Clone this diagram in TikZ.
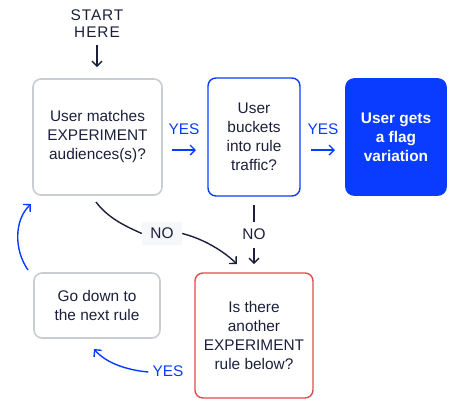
\documentclass[tikz,border=0pt]{standalone}
\usepackage{fontspec}
\setmainfont{Liberation Sans}
\newfontfamily\spaced[LetterSpace=6]{Liberation Sans}
\usetikzlibrary{arrows.meta}
\definecolor{ink}{HTML}{1B1F3B}
\definecolor{vivid}{HTML}{0A3CFF}
\definecolor{frame}{HTML}{C9CCD1}
\definecolor{alert}{HTML}{E5484D}
\definecolor{chip}{HTML}{F6F7F8}
\begin{document}
\begin{tikzpicture}[x=1pt,y=-1pt,
  txt/.style={font=\fontsize{15.4}{19}\selectfont, text=ink, align=center},
  card/.style={txt, draw, line width=1.6pt, rounded corners=8pt, inner sep=0pt},
  grey/.style={card, draw=frame},
  bluebox/.style={card, draw=vivid, line width=1.4pt},
  redbox/.style={card, draw=alert, line width=1.4pt},
  solid/.style={card, draw=vivid, fill=vivid, text=white, font=\fontsize{15.4}{19}\selectfont\bfseries},
  yes/.style={font=\fontsize{15.4}{19}\selectfont, text=vivid, inner sep=0pt},
  no/.style={font=\fontsize{15.4}{19}\selectfont, text=ink, inner sep=2pt},
  tip/.style={-{Straight Barb[length=5pt,width=10pt,line width=1.4pt]}, line width=1.4pt},
  darkline/.style={tip, draw=ink},
  blueline/.style={tip, draw=vivid},
]
\useasboundingbox (0,0) rectangle (456,400);

% start label
\node[txt, font=\fontsize{15.4}{17}\selectfont\spaced] (start) at (97,24) {START\\HERE};

% boxes
\node[grey, minimum width=129pt, minimum height=116pt] (match) at (97.5,137) {User matches\\EXPERIMENT\\audiences(s)?};
\node[bluebox, minimum width=92pt, minimum height=118pt] (bucket) at (254,137) {User\\buckets\\into rule\\traffic?};
\node[solid, minimum width=100pt, minimum height=116pt] (flag) at (396,137) {User gets\\a flag\\variation};
\node[grey, minimum width=126pt, minimum height=65pt] (down) at (97,305.5) {Go down to\\the next rule};
\node[redbox, minimum width=118pt, minimum height=125pt] (another) at (254,335.5) {Is there\\another\\EXPERIMENT\\rule below?};

% entry arrow
\coordinate (s0) at (97,45);
\coordinate (s1) at (97,67);
\draw[darkline] (s0) -- (s1);

% YES between the top boxes
\node[yes] (yes1) at (184,129) {YES};
\coordinate (a0) at (172,150);
\coordinate (a1) at (196,150);
\draw[blueline] (a0) -- (a1);
\node[yes] (yes2) at (323,129) {YES};
\coordinate (b0) at (311,150);
\coordinate (b1) at (335,150);
\draw[blueline] (b0) -- (b1);

% NO from bucket box
\node[no, inner sep=0pt] (no2) at (254,234) {NO};
\coordinate (c0) at (254,205);
\coordinate (c1) at (254,222);
\coordinate (c2) at (254,248);
\coordinate (c3) at (254,264);
\draw[ink, line width=1.4pt] (c0) -- (c1);
\draw[darkline] (c2) -- (c3);

% NO from match box
\node[no, fill=chip, minimum width=40pt, minimum height=23pt] (no1) at (162,233.5) {NO};
\coordinate (d0) at (96,202);
\coordinate (d3) at (237,264);
\draw[ink, line width=1.4pt] (d0) .. controls (108,218) and (125,226) .. (no1.west);
\draw[darkline] (no1.east) .. controls (200,238) and (220,248) .. (d3);

% YES loop back to the top
\node[yes] (yes3) at (168,371) {YES};
\coordinate (e1) at (94,349);
\draw[blueline] (yes3.west) ++(-4,1) .. controls (125,370) and (105,362) .. (e1);
\coordinate (f0) at (28,270);
\coordinate (f1) at (31,204);
\draw[blueline] (f0) .. controls (14,250) and (14,220) .. (f1);
\end{tikzpicture}
\end{document}
